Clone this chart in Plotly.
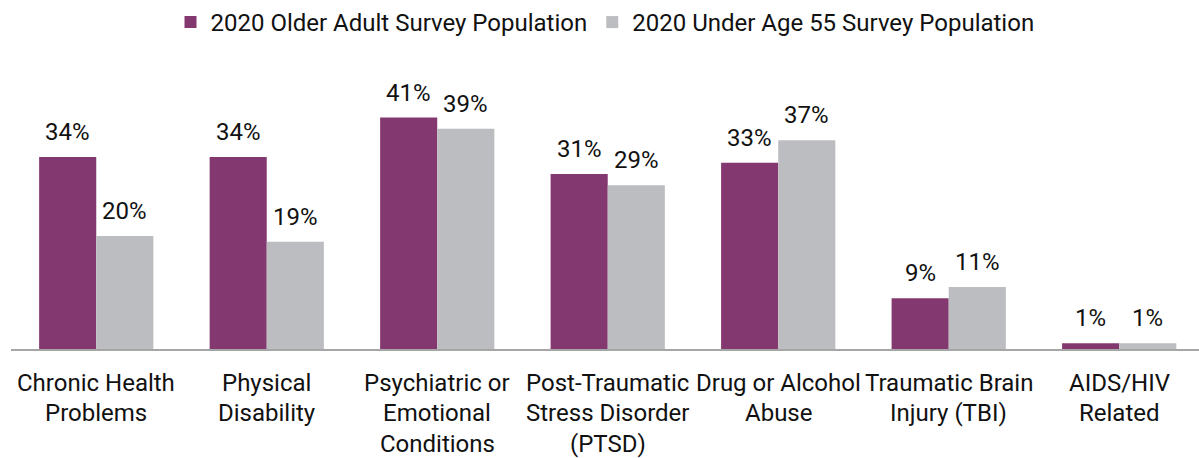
import plotly.graph_objects as go

categories = [
    "Chronic Health<br>Problems",
    "Physical<br>Disability",
    "Psychiatric or<br>Emotional<br>Conditions",
    "Post-Traumatic<br>Stress Disorder<br>(PTSD)",
    "Drug or Alcohol<br>Abuse",
    "Traumatic Brain<br>Injury (TBI)",
    "AIDS/HIV<br>Related",
]
older_adult = [34, 34, 41, 31, 33, 9, 1]
under_55 = [20, 19, 39, 29, 37, 11, 1]

series_names = ["2020 Older Adult Survey Population", "2020 Under Age 55 Survey Population"]
colors = ["#843870", "#BCBDC0"]
FONT = "Roboto"
TEXT_COLOR = "#111111"

idx = list(range(len(categories)))

fig = go.Figure()
for name, vals, col in zip(series_names, [older_adult, under_55], colors):
    fig.add_bar(x=idx, y=vals, name=name, marker=dict(color=col, line_width=0), hoverinfo="skip")

annotations = []
# value labels above each bar
for k, vals in enumerate([older_adult, under_55]):
    shift = -28.5 if k == 0 else 28.5
    for i, v in zip(idx, vals):
        annotations.append(dict(
            x=i, y=v, xref="x", yref="y", text=f"{v}%", showarrow=False,
            xshift=shift, yshift=9, yanchor="bottom",
            font=dict(family=FONT, size=24, color=TEXT_COLOR),
        ))
# category labels, one annotation per line
for i, cat in zip(idx, categories):
    for j, line in enumerate(cat.split("<br>")):
        annotations.append(dict(
            x=i, y=0, xref="x", yref="paper", text=line, showarrow=False,
            yanchor="top", yshift=-17.5 - 30.5 * j,
            font=dict(family=FONT, size=24, color=TEXT_COLOR),
        ))

fig.update_layout(
    width=1199, height=458,
    margin=dict(l=11, r=0, t=95, b=109),
    paper_bgcolor="white", plot_bgcolor="white",
    barmode="group", bargap=0.33, bargroupgap=0,
    font=dict(family=FONT, size=24, color=TEXT_COLOR),
    legend=dict(
        orientation="h", x=0.5, xanchor="center", y=1.287, yanchor="middle",
        font=dict(family=FONT, size=24, color=TEXT_COLOR),
        itemwidth=30, tracegroupgap=0,
    ),
    xaxis=dict(
        range=[-0.5, 6.468], showticklabels=False, ticks="",
        showgrid=False, zeroline=False,
        showline=True, linecolor="#A6A6A6", linewidth=1.5,
    ),
    yaxis=dict(range=[0, 45], visible=False, showgrid=False, zeroline=False),
    annotations=annotations,
)

fig.write_html("out.html")
